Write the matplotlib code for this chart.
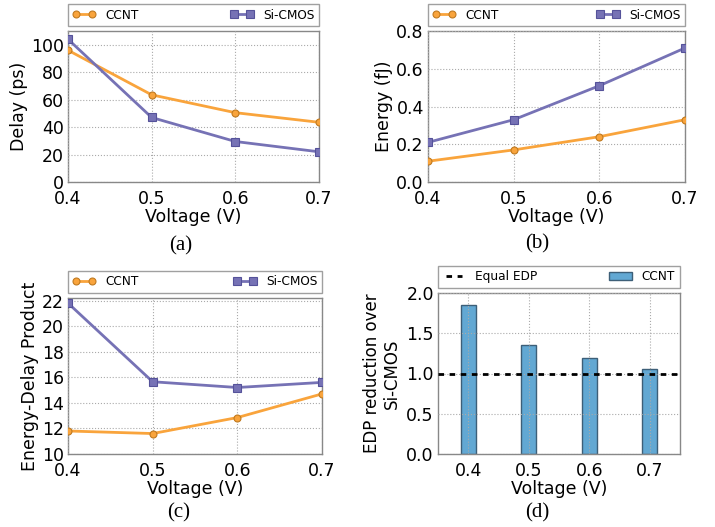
import numpy as np
import matplotlib.pyplot as plt

voltage = [0.4, 0.5, 0.6, 0.7]
delay_ccnt = [96, 63.5, 50.5, 43.5]
delay_cmos = [104, 47, 29.5, 22]
energy_ccnt = [0.11, 0.17, 0.24, 0.33]
energy_cmos = [0.21, 0.33, 0.51, 0.71]
edp_ccnt = [11.8, 11.6, 12.85, 14.7]
edp_cmos = [21.8, 15.65, 15.2, 15.6]
edp_reduction = [1.85, 1.35, 1.19, 1.06]
vlabels = ["0.4", "0.5", "0.6", "0.7"]

c_ccnt = "#f9a43c"
c_cmos = "#7672b5"
c_bar = "#62a8d3"

plt.rcParams["font.family"] = "DejaVu Sans"
fig = plt.figure(figsize=(7.15, 5.27), dpi=100)
W, H = 715.0, 527.0


def make_ax(l, t, r, b):
    ax = fig.add_axes([l / W, 1 - b / H, (r - l) / W, (b - t) / H])
    for s in ax.spines.values():
        s.set_color("#888888")
        s.set_linewidth(1.0)
    ax.grid(True, linestyle=":", color="#aaaaaa", linewidth=0.8)
    ax.set_axisbelow(False)
    ax.tick_params(labelsize=12.5, length=0)
    ax.tick_params(axis="x", pad=6)
    ax.tick_params(axis="y", pad=3)
    return ax


def legend_top(ax, ncol=2):
    leg = ax.legend(loc="lower left", bbox_to_anchor=(0, 1.03, 1, 0.15), mode="expand",
                    ncol=ncol, fontsize=8.7, frameon=True, fancybox=False,
                    borderaxespad=0, handlelength=1.9, numpoints=2)
    leg.get_frame().set_edgecolor("#888888")
    leg.get_frame().set_linewidth(1.0)
    return leg


def line_panel(ax, y1, y2, ylim, yticks, ylabel):
    ax.plot(voltage, y1, "-o", color=c_ccnt, lw=2, ms=5, mec="#c07a20", mew=0.8, label="CCNT", zorder=3)
    ax.plot(voltage, y2, "-s", color=c_cmos, lw=2, ms=5.5, mec="#55529a", mew=0.8, label="Si-CMOS", zorder=3)
    ax.set_xlim(0.4, 0.7)
    ax.set_xticks(voltage)
    ax.set_xticklabels(vlabels)
    ax.set_ylim(ylim)
    ax.set_yticks(yticks)
    ax.set_ylabel(ylabel, fontsize=12.5, labelpad=2)
    ax.set_xlabel("Voltage (V)", fontsize=12.5, labelpad=0)
    legend_top(ax)


ax_a = make_ax(68, 31, 319, 182)
line_panel(ax_a, delay_ccnt, delay_cmos, (0, 110), [0, 20, 40, 60, 80, 100], "Delay (ps)")

ax_b = make_ax(428, 31, 685, 182)
line_panel(ax_b, energy_ccnt, energy_cmos, (0, 0.8), [0.0, 0.2, 0.4, 0.6, 0.8], "Energy (fJ)")
ax_b.set_yticklabels(["0.0", "0.2", "0.4", "0.6", "0.8"])

ax_c = make_ax(68, 298, 322, 454)
line_panel(ax_c, edp_ccnt, edp_cmos, (10, 22.2), [10, 12, 14, 16, 18, 20, 22], "Energy-Delay Product")

ax_d = make_ax(438, 293, 680, 454)
pos = np.arange(len(edp_reduction))
ax_d.axhline(1.0, color="black", ls=(0, (2, 2)), lw=2, label="Equal EDP", zorder=4)
ax_d.bar(pos, edp_reduction, width=0.25, color=c_bar, edgecolor="#3d5f78", lw=1, label="CCNT", zorder=2)
ax_d.set_xlim(-0.5, 3.5)
ax_d.set_xticks(pos)
ax_d.set_xticklabels(vlabels)
ax_d.set_ylim(0, 2.0)
ax_d.set_yticks([0.0, 0.5, 1.0, 1.5, 2.0])
ax_d.set_ylabel("EDP reduction over\nSi-CMOS", fontsize=12, labelpad=4, linespacing=1.1)
ax_d.set_xlabel("Voltage (V)", fontsize=12.5, labelpad=0)
legend_top(ax_d)

for label, x, y in [("(a)", 181, 246), ("(b)", 537, 244), ("(c)", 179, 513), ("(d)", 537, 513)]:
    fig.text(x / W, 1 - y / H, label, family="Liberation Serif", fontsize=15, ha="center", va="center")

fig.savefig("out.png", dpi=100)
